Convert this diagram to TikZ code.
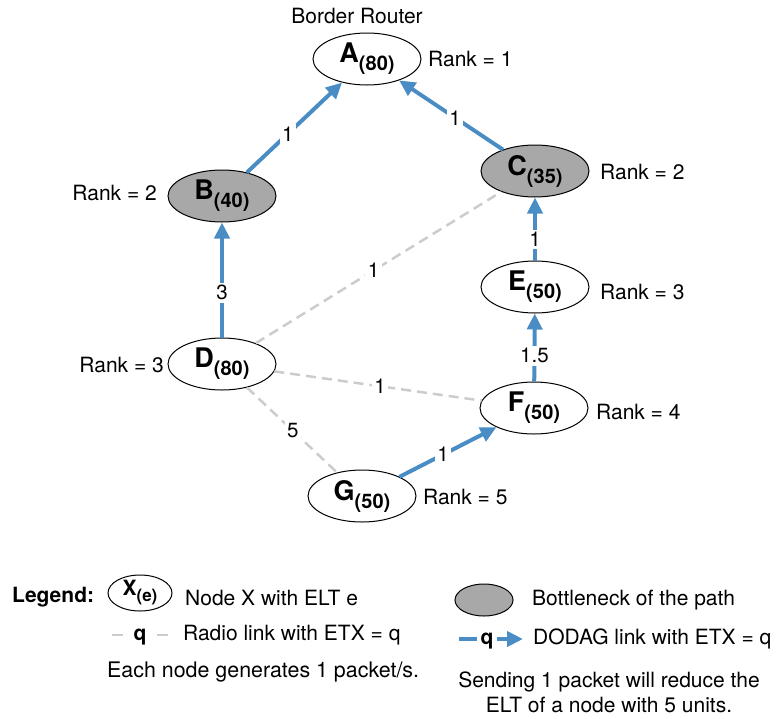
\documentclass[tikz,border=0pt]{standalone}
\usepackage{fontspec}
\setmainfont{TeX Gyre Heros}
\usetikzlibrary{shapes.geometric,arrows.meta}
\definecolor{dblue}{RGB}{74,141,196}
\definecolor{lgray}{RGB}{204,204,204}
\definecolor{bgray}{RGB}{168,168,168}
\newcommand{\nodelbl}[2]{{\fontsize{27}{27}\selectfont\bfseries #1}\raisebox{-8pt}{\fontsize{20}{20}\selectfont\bfseries(#2)}}
\begin{document}
\begin{tikzpicture}[x=1pt,y=-1pt,font=\fontsize{21}{25}\selectfont,
  nd/.style={ellipse, draw, line width=1pt, minimum width=108pt, minimum height=52pt, inner sep=0pt, fill=white},
  bn/.style={nd, fill=bgray},
  dag/.style={draw=dblue, line width=4pt, -{Triangle[length=16pt,width=15pt]}},
  radio/.style={draw=lgray, line width=2.5pt, dash pattern=on 10pt off 6pt},
  el/.style={fill=white, inner sep=2.5pt, font=\fontsize{20.5}{20.5}\selectfont},
  rk/.style={inner sep=0pt}]
\useasboundingbox (0,0) rectangle (776,718);

% nodes
\node[nd] (A) at (367,59) {\nodelbl{A}{80}};
\node[bn] (B) at (222,196) {\nodelbl{B}{40}};
\node[bn] (C) at (535,171) {\nodelbl{C}{35}};
\node[nd] (D) at (222,364) {\nodelbl{D}{80}};
\node[nd] (E) at (535,287) {\nodelbl{E}{50}};
\node[nd] (F) at (534,408) {\nodelbl{F}{50}};
\node[nd] (G) at (362,496) {\nodelbl{G}{50}};

% titles and ranks
\node[rk] (br) at (357,16) {Border Router};
\node[rk,anchor=west] (rA) at (428,59) {Rank = 1};
\node[rk,anchor=east] (rB) at (157,193) {Rank = 2};
\node[rk,anchor=west] (rC) at (600,172) {Rank = 2};
\node[rk,anchor=east] (rD) at (164,365) {Rank = 3};
\node[rk,anchor=west] (rE) at (600,292) {Rank = 3};
\node[rk,anchor=west] (rF) at (596,412) {Rank = 4};
\node[rk,anchor=west] (rG) at (423,497) {Rank = 5};

% radio links
\draw[radio] (D) -- node[el,pos=.48]{1} (C);
\draw[radio] (D) -- node[el,pos=.51]{1} (F);
\draw[radio] (D) -- node[el,pos=.51]{5} (G);

% DODAG links
\draw[dag] (B) -- node[el,pos=.43]{1} (A);
\draw[dag] (C) -- node[el,pos=.46]{1} (A);
\draw[dag] (D) -- node[el,pos=.39]{3} (B);
\draw[dag] (E) -- node[el,pos=.33]{1} (C);
\draw[dag] (F) -- node[el,pos=.38]{1.5} (E);
\draw[dag] (G) -- node[el,pos=.45]{1} (F);

% legend
\node[rk,anchor=west,font=\fontsize{21}{21}\selectfont\bfseries] (lg) at (12,597) {Legend:};
\node[ellipse, draw, line width=1pt, minimum width=64pt, minimum height=36pt, inner sep=0pt] (lx) at (140,593)
  {{\fontsize{21}{21}\selectfont\bfseries X}\raisebox{-6pt}{\fontsize{17}{17}\selectfont\bfseries(e)}};
\node[rk,anchor=west] (lxt) at (185,598) {Node X with ELT e};

\coordinate (g1) at (112,635);
\coordinate (g2) at (123,635);
\coordinate (g3) at (157,635);
\coordinate (g4) at (168,635);
\draw[draw=lgray, line width=2.5pt] (g1) -- (g2);
\draw[draw=lgray, line width=2.5pt] (g3) -- (g4);
\node[rk,font=\fontsize{21}{21}\selectfont\bfseries] (gq) at (140,637) {q};
\node[rk,anchor=west] (gt) at (183,635) {Radio link with ETX = q};
\node[rk,anchor=west,font=\fontsize{21.4}{26}\selectfont] (each) at (107,672) {Each node generates 1 packet/s.};

\node[ellipse, draw, line width=1pt, fill=bgray, minimum width=58pt, minimum height=32pt, inner sep=0pt] (lb) at (484,600) {};
\node[rk,anchor=west] (lbt) at (532,600) {Bottleneck of the path};

\coordinate (b1) at (459,639);
\coordinate (b2) at (477,639);
\coordinate (b3) at (497,639);
\coordinate (b4) at (523,639);
\draw[draw=dblue, line width=4pt] (b1) -- (b2);
\draw[dag] (b3) -- (b4);
\node[rk,font=\fontsize{21}{21}\selectfont\bfseries] (bq) at (487,641) {q};
\node[rk,anchor=west] (bt) at (533,639) {DODAG link with ETX = q};
\node[rk,align=center] (send) at (609,692) {Sending 1 packet will reduce the\\ELT of a node with 5 units.};
\end{tikzpicture}
\end{document}
